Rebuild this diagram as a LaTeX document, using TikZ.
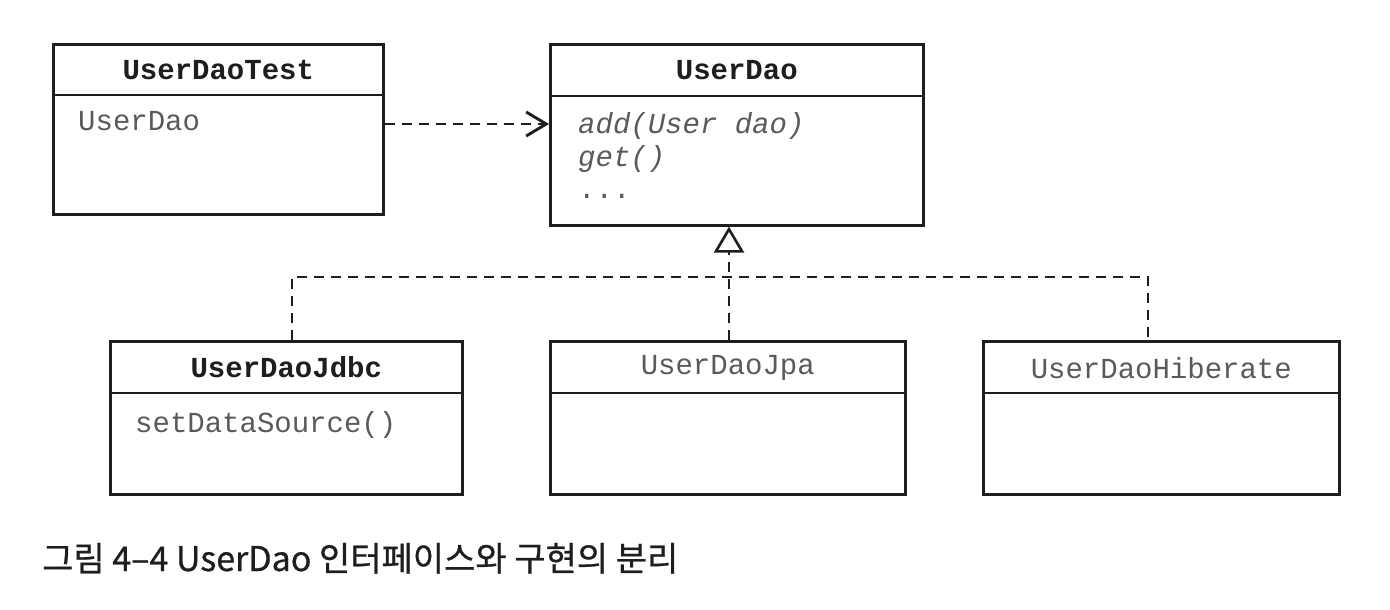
\documentclass[tikz,border=0pt]{standalone}
\usepackage{fontspec}
\setmonofont{Liberation Mono}
\newfontfamily\krfont{Noto Sans CJK KR}[FakeBold=0.7]
\usetikzlibrary{arrows.meta}
\definecolor{ink}{HTML}{1E1E1E}
\definecolor{txtgray}{HTML}{5A5A5A}
\tikzset{
  cls/.style={draw=ink, line width=2.6pt, fill=white, inner sep=0pt, anchor=north west},
  hdr/.style={font=\fontsize{29}{32}\selectfont\ttfamily\bfseries, text=ink, inner sep=0pt},
  hdrn/.style={font=\fontsize{29}{32}\selectfont\ttfamily, text=txtgray, inner sep=0pt},
  body/.style={font=\fontsize{29}{32}\selectfont\ttfamily, text=txtgray, anchor=base west, inner sep=0pt},
  ibody/.style={body, font=\fontsize{29}{32}\selectfont\ttfamily\itshape},
  sep/.style={draw=ink, line width=2.6pt},
  dsh/.style={draw=ink, line width=2.9pt, dash pattern=on 10pt off 7pt},
}
\begin{document}
\begin{tikzpicture}[x=1pt,y=-1pt]
\useasboundingbox[fill=white] (0,0) rectangle (1390,610);

% UserDaoTest
\node[cls, minimum width=330, minimum height=170] (test) at (52,43) {};
\draw[sep] ([yshift=-52pt]test.north west) -- ([yshift=-52pt]test.north east);
\node[hdr] (testname) at ([yshift=-27pt]test.north) {UserDaoTest};
\node[body] (testb) at ([xshift=26pt,yshift=-87pt]test.north west) {UserDao};

% UserDao
\node[cls, minimum width=373, minimum height=181] (dao) at (549,43) {};
\draw[sep] ([yshift=-53pt]dao.north west) -- ([yshift=-53pt]dao.north east);
\node[hdr] (daoname) at ([yshift=-27pt]dao.north) {UserDao};
\node[ibody] (m1) at ([xshift=29pt,yshift=-90pt]dao.north west) {add(User dao)};
\node[ibody] (m2) at ([xshift=29pt,yshift=-123pt]dao.north west) {get()};
\node[body] (m3) at ([xshift=29pt,yshift=-155pt]dao.north west) {...};

% UserDaoJdbc
\node[cls, minimum width=352, minimum height=153] (jdbc) at (109,340) {};
\draw[sep] ([yshift=-53pt]jdbc.north west) -- ([yshift=-53pt]jdbc.north east);
\node[hdr] (jdbcname) at ([yshift=-27pt]jdbc.north) {UserDaoJdbc};
\node[body] (jdbcb) at ([xshift=26pt,yshift=-92pt]jdbc.north west) {setDataSource()};

% UserDaoJpa
\node[cls, minimum width=355, minimum height=153] (jpa) at (549,340) {};
\draw[sep] ([yshift=-53pt]jpa.north west) -- ([yshift=-53pt]jpa.north east);
\node[hdrn] (jpaname) at ([yshift=-28pt]jpa.north) {UserDaoJpa};

% UserDaoHiberate
\node[cls, minimum width=356, minimum height=153] (hib) at (982,340) {};
\draw[sep] ([yshift=-53pt]hib.north west) -- ([yshift=-53pt]hib.north east);
\node[hdrn] (hibname) at ([yshift=-28pt]hib.north) {UserDaoHiberate};

% dependency arrow
\coordinate (ay) at (0,124);
\draw[dsh, -{Straight Barb[length=20pt,width=24pt,line width=2.9pt]}]
  (test.east |- ay) -- (dao.west |- ay);

% realization
\coordinate (j) at (729,277);
\coordinate (jl) at (292,277);
\coordinate (jr) at (1148,277);
\draw[dsh] (jl |- jdbc.north) -- (jl) -- (jr) -- (jr |- hib.north);
\draw[dsh, -{Triangle[open,length=26pt,width=30pt,line width=2.6pt]}]
  (jpa.north -| j) -- (dao.south -| j);

% caption
\node[anchor=base west, inner sep=0pt, text=ink, font=\krfont\fontsize{34}{38}\selectfont] (cap) at (42,571) {그림 4–4 UserDao 인터페이스와 구현의 분리};
\end{tikzpicture}
\end{document}
